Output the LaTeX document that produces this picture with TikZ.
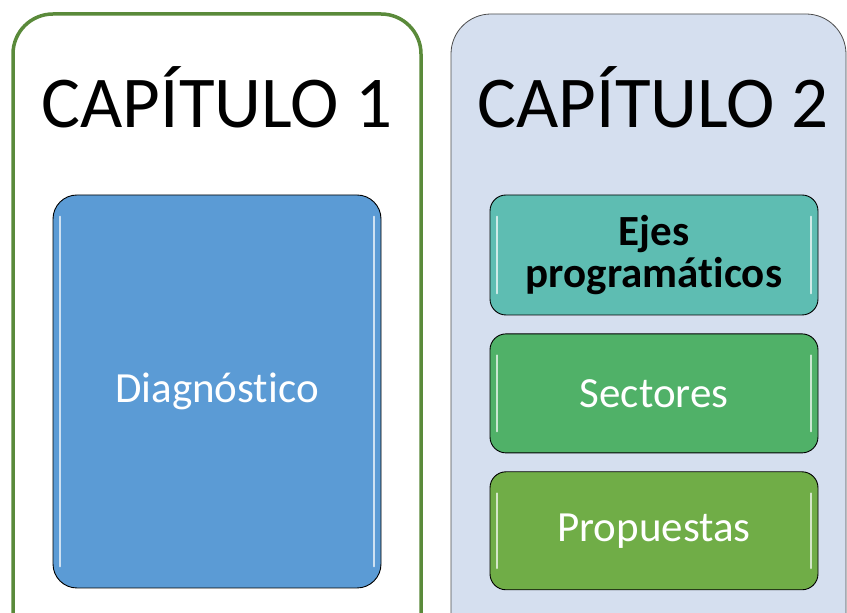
\documentclass[tikz,border=0pt]{standalone}
\usepackage{fontspec}
\setmainfont[Ligatures=NoCommon]{Carlito}
\usepackage{tikz}
\usetikzlibrary{positioning}
\definecolor{capgreen}{HTML}{5A8A3A}
\definecolor{capblue}{HTML}{D5DFEF}
\definecolor{diagblue}{HTML}{5B9BD5}
\definecolor{ejesteal}{HTML}{5EBDB2}
\definecolor{sectgreen}{HTML}{50B168}
\definecolor{propgreen}{HTML}{70AD47}

\tikzset{
  chapbox/.style={rounded corners=40pt},
  titletext/.style={font=\fontsize{73}{73}\selectfont, anchor=base, inner sep=0pt},
  itembox/.style={draw=black, line width=0.9pt, rounded corners=#1, inner sep=0pt,
    text=white, font=\fontsize{43}{43}\selectfont, align=center},
  gloss/.style={white, line width=2pt, opacity=0.7}
}

\begin{document}
\begin{tikzpicture}[line cap=round,line join=round,x=1pt,y=1pt]
\useasboundingbox (0,0) rectangle (847,613);
\clip (0,0) rectangle (847,613);
% the two chapters
\draw [chapbox,line width=3.5pt,draw=capgreen,fill=white] (13,-60) rectangle (421,599);
\draw [chapbox,line width=0.8pt,draw=black!70,fill=capblue] (451,-60) rectangle (846,599);
\node [titletext] (title1) at (217,485) {CAPÍTULO 1};
\node [titletext] (title2) at (653,485) {CAPÍTULO 2};
% chapter 1
\node [itembox=24pt, fill=diagblue, minimum width=328pt, minimum height=393pt] (diag) at (217,221.5) {Diagnóstico};
% chapter 2
\node [itembox=16pt, fill=ejesteal, minimum width=328pt, minimum height=120pt, text=black,
  font=\fontsize{43}{42}\selectfont\bfseries] (ejes) at (654,358) {Ejes\\programáticos};
\node [itembox=16pt, fill=sectgreen, minimum width=328pt, minimum height=119pt, below=18pt of ejes] (sect) {Sectores};
\node [itembox=16pt, fill=propgreen, minimum width=328pt, minimum height=118pt, below=18pt of sect] (prop) {Propuestas};
% glossy edges
\foreach \b in {diag,ejes,sect,prop}{
  \draw [gloss] ([xshift=7pt,yshift=-22pt]\b.north west) -- ([xshift=7pt,yshift=22pt]\b.south west);
  \draw [gloss] ([xshift=-7pt,yshift=-22pt]\b.north east) -- ([xshift=-7pt,yshift=22pt]\b.south east);
}
\end{tikzpicture}
\end{document}
